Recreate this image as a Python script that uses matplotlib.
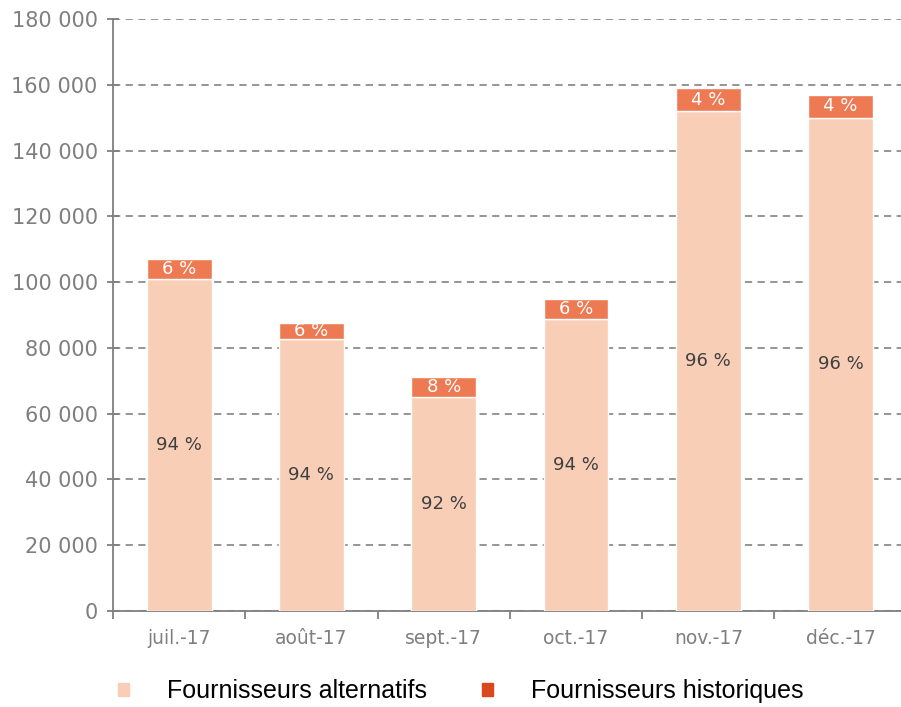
import numpy as np
import matplotlib.pyplot as plt
from matplotlib.patches import Patch

# Données
mois = ['juil.-17', 'août-17', 'sept.-17', 'oct.-17', 'nov.-17', 'déc.-17']
alternatifs = [101000, 82700, 65200, 88800, 152000, 150000]
historiques = [6000, 4900, 5800, 6100, 7000, 7000]
pct_alt = ['94 %', '94 %', '92 %', '94 %', '96 %', '96 %']
pct_hist = ['6 %', '6 %', '8 %', '6 %', '4 %', '4 %']

c_alt = '#F8CEB7'
c_hist = '#ED7A52'
c_hist_leg = '#D9481C'
gris = '#7F7F7F'

plt.rcParams['font.family'] = ['DejaVu Sans']

fig = plt.figure(figsize=(9.01, 7.07), dpi=100)
ax = fig.add_axes([0.1254, 0.1358, 0.881, 0.8373])

x = np.arange(len(mois))
ax.bar(x, alternatifs, width=0.49, color=c_alt, edgecolor='white', linewidth=1, zorder=3)
ax.bar(x, historiques, width=0.49, bottom=alternatifs, color=c_hist, edgecolor='white', linewidth=1, zorder=3)

for i in range(len(mois)):
    ax.text(x[i], alternatifs[i] / 2, pct_alt[i], ha='center', va='center',
            fontsize=13, color='#404040', zorder=4)
    ax.text(x[i], alternatifs[i] + historiques[i] / 2, pct_hist[i], ha='center', va='center',
            fontsize=13, color='white', zorder=4)

ax.set_ylim(0, 180000)
ax.set_xlim(-0.5, 5.5)
ax.set_yticks(np.arange(0, 180001, 20000))
ax.set_yticklabels(['0'] + [f'{v // 1000} 000' for v in range(20000, 180001, 20000)])
ax.yaxis.grid(True, linestyle=(0, (4, 3)), color='#8C8C8C', linewidth=1.3, zorder=0)

ax.set_xticks(x)
ax.set_xticklabels(mois)
ax.set_xticks(np.arange(-0.5, 6, 1), minor=True)
ax.tick_params(axis='x', which='major', length=0, labelsize=13.5, labelcolor=gris, pad=13)
ax.tick_params(axis='x', which='minor', length=6, color=gris, width=1.3)
ax.tick_params(axis='y', length=8, direction='inout', color=gris, width=1.3, labelsize=15,
               labelcolor=gris, pad=7)

for s in ['top', 'right']:
    ax.spines[s].set_visible(False)
for s in ['left', 'bottom']:
    ax.spines[s].set_color(gris)
    ax.spines[s].set_linewidth(1.3)

poignees = [Patch(color=c_alt, label='Fournisseurs alternatifs'),
            Patch(color=c_hist_leg, label='Fournisseurs historiques')]
fig.legend(handles=poignees, loc='center left', bbox_to_anchor=(0.106, 0.022), ncol=2,
           frameon=False, handlelength=0.45, handleheight=0.45,
           handletextpad=1.5, columnspacing=2.2,
           prop={'family': 'Liberation Sans', 'size': 18})

plt.savefig('out.png', dpi=100)
